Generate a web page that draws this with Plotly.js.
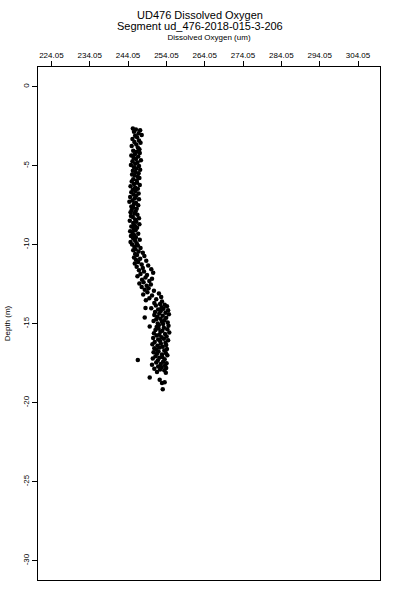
<!DOCTYPE html>
<html>
<head>
<meta charset="utf-8">
<script src="https://cdn.plot.ly/plotly-3.0.1.min.js"></script>
<style>html,body{margin:0;padding:0;background:#fff;}#chart{width:400px;height:600px;}</style>
</head>
<body>
<div id="chart"></div>
<script>
// Depth (m) and dissolved oxygen (um)
var depth = [
-2.65,-2.7,-2.75,-2.85,-2.95,-3.05,-3.1,-3.2,-3.3,-3.4,-3.5,-3.55,-3.65,-3.75,-3.85,-3.95,
-4.05,-4.12,-4.2,-4.28,-4.35,-4.42,-4.5,-4.58,-4.65,-4.72,-4.8,-4.88,-4.95,-5.02,-5.1,-5.18,-5.25,-5.32,-5.4,-5.48,-5.55,-5.62,-5.7,-5.78,-5.85,-5.93,
-6.0,-6.08,-6.15,-6.22,-6.3,-6.38,-6.45,-6.52,-6.6,-6.68,-6.75,-6.82,-6.9,-6.98,-7.05,-7.12,-7.2,-7.28,-7.35,-7.42,-7.5,-7.58,-7.65,-7.72,-7.8,-7.88,-7.95,
-8.02,-8.1,-8.18,-8.25,-8.32,-8.4,-8.48,-8.55,-8.62,-8.7,-8.78,-8.85,-8.92,-9.0,-9.08,-9.15,-9.22,-9.3,-9.38,-9.45,-9.52,-9.6,-9.68,-9.75,-9.82,-9.9,-9.98,-10.05,-10.12,-10.2,-10.28,
-10.35,-10.42,-10.5,-10.58,-10.65,-10.72,-10.8,-10.88,-10.95,-11.02,-11.1,-11.18,-11.25,-11.32,-11.4,-11.48,-11.55,-11.62,-11.7,-11.78,-11.85,-11.92,-12.0,-12.08,-12.15,-12.22,-12.3,-12.38,-12.45,-12.52,-12.6,-12.68,-12.75,
-12.85,-12.92,-13.0,-13.08,-13.15,-13.22,-13.3,-13.38,-13.45,-13.52,-13.6,-13.68,
-13.75,-13.8,-13.85,-13.9,-13.95,-14.0,-14.02,-14.05,-14.1,-14.15,-14.2,-14.25,-14.3,-14.35,-14.4,-14.45,-14.5,-14.55,-14.6,-14.62,-14.68,-14.72,-14.78,-14.82,-14.88,-14.92,-14.98,-15.02,-15.08,-15.12,-15.18,-15.2,
-15.25,-15.3,-15.35,-15.4,-15.45,-15.5,-15.55,-15.6,-15.65,-15.7,-15.75,-15.8,-15.85,-15.9,-15.95,-16.0,-16.05,-16.1,-16.15,-16.2,-16.25,-16.3,-16.35,-16.4,-16.45,-16.5,-16.55,-16.6,-16.65,-16.7,-16.75,-16.8,-16.85,-16.9,-16.95,-17.0,-17.05,-17.1,-17.15,-17.2,-17.25,-17.3,-17.32,
-17.4,-17.45,-17.5,-17.55,-17.6,-17.65,-17.7,-17.75,-17.8,-17.85,-17.9,-17.95,-18.05,-18.1,-18.4,-18.55,-18.7,-18.75,-19.15
];
var oxygen = [
245.3,246.1,247.2,245.6,246.8,247.6,245.9,246.4,245.2,246.9,245.7,247.3,246.2,245.0,246.6,247.0,
245.4,246.3,247.1,245.8,244.9,246.7,245.5,246.1,247.4,245.2,246.5,245.9,244.8,246.9,245.6,246.2,247.2,245.3,246.0,246.8,245.1,245.8,246.6,247.0,245.4,246.3,
245.0,246.4,245.6,247.1,244.7,245.9,246.6,245.3,246.0,244.9,246.8,245.5,246.2,244.6,245.8,246.9,245.2,244.4,246.1,245.6,246.7,244.9,245.4,246.3,245.0,246.0,244.7,
245.7,246.5,244.8,245.3,246.9,245.9,244.5,246.2,245.4,247.0,245.8,244.9,246.4,245.5,246.0,244.6,245.2,246.7,245.6,244.8,246.1,245.4,247.1,245.9,244.7,246.3,245.1,246.6,245.7,247.3,246.0,
245.4,246.8,247.9,245.9,246.4,248.3,245.6,247.2,246.1,248.8,246.7,245.8,247.6,249.3,246.3,247.9,250.1,246.9,248.2,250.6,247.3,249.0,246.5,248.6,250.3,247.7,249.6,248.1,247.0,250.0,248.9,247.6,249.4,
248.4,250.8,249.1,252.1,248.0,250.3,252.7,249.6,251.4,248.7,252.9,250.9,
252.4,253.6,251.3,254.2,252.8,248.6,250.1,253.3,251.9,254.5,252.6,251.1,253.8,252.2,254.7,250.9,253.1,251.7,248.4,254.0,252.5,251.4,253.5,250.7,252.9,254.4,251.8,253.2,252.1,254.6,249.7,251.5,
253.4,252.0,254.3,251.2,253.0,252.5,254.8,250.8,253.7,252.2,251.5,254.1,252.8,250.6,253.4,251.9,254.5,252.4,251.0,253.8,252.6,250.4,254.0,251.7,253.1,252.3,250.9,254.2,251.4,253.5,252.0,250.7,253.9,251.6,252.9,254.3,251.2,253.0,252.2,250.5,253.6,246.6,251.8,
253.2,251.4,254.1,252.6,250.3,253.7,251.9,252.8,254.0,250.9,252.4,253.5,251.6,253.9,249.7,252.3,253.6,252.9,253.1
];
var xTicks = [224.05,234.05,244.05,254.05,264.05,274.05,284.05,294.05,304.05];
var xTickText = ["224.05","234.05","244.05","254.05","264.05","274.05","284.05","294.05","304.05"];
var yTicks = [0,-5,-10,-15,-20,-25,-30];
var yTickText = ["0","-5","-10","-15","-20","-25","-30"];
var titleLine1 = "UD476 Dissolved Oxygen";
var titleLine2 = "Segment ud_476-2018-015-3-206";

var fam = "Liberation Sans, Arial, sans-serif";
var trace = {
  x: oxygen, y: depth, type: "scatter", mode: "markers",
  marker: {color: "#000", size: 4.5},
  hoverinfo: "skip"
};
var layout = {
  width: 400, height: 600,
  paper_bgcolor: "#fff", plot_bgcolor: "#fff",
  showlegend: false,
  font: {family: fam, color: "#000", size: 8},
  margin: {l: 38, r: 20, t: 67, b: 20, pad: 0},
  title: {
    text: titleLine1,
    font: {family: fam, size: 11, color: "#000"},
    x: 0.5, xanchor: "center", xref: "container",
    y: 0.975, yanchor: "middle", yref: "container"
  },
  annotations: [{
    text: titleLine2, xref: "paper", yref: "paper",
    x: (200 - 38) / 342, y: (580 - 26.5) / 513,
    xanchor: "center", yanchor: "middle", showarrow: false,
    font: {family: fam, size: 11, color: "#000"}
  }],
  xaxis: {
    side: "top", range: [220.55, 309.79],
    tickmode: "array", tickvals: xTicks, ticktext: xTickText,
    ticks: "outside", ticklen: 5, tickwidth: 1, tickcolor: "#000",
    tickfont: {family: fam, size: 8, color: "#000"},
    showgrid: false, zeroline: false,
    showline: true, mirror: true, linecolor: "#000", linewidth: 1,
    title: {text: "Dissolved Oxygen (um)", font: {family: fam, size: 8, color: "#000"}, standoff: 8}
  },
  yaxis: {
    range: [-31.22, 1.25],
    tickmode: "array", tickvals: yTicks, ticktext: yTickText,
    tickangle: -90,
    ticks: "outside", ticklen: 5, tickwidth: 1, tickcolor: "#000",
    tickfont: {family: fam, size: 8, color: "#000"},
    showgrid: false, zeroline: false,
    showline: true, mirror: true, linecolor: "#000", linewidth: 1,
    title: {text: "Depth (m)", font: {family: fam, size: 8, color: "#000"}, standoff: 9}
  }
};
Plotly.newPlot("chart", [trace], layout, {staticPlot: true, displayModeBar: false});
</script>
</body>
</html>
